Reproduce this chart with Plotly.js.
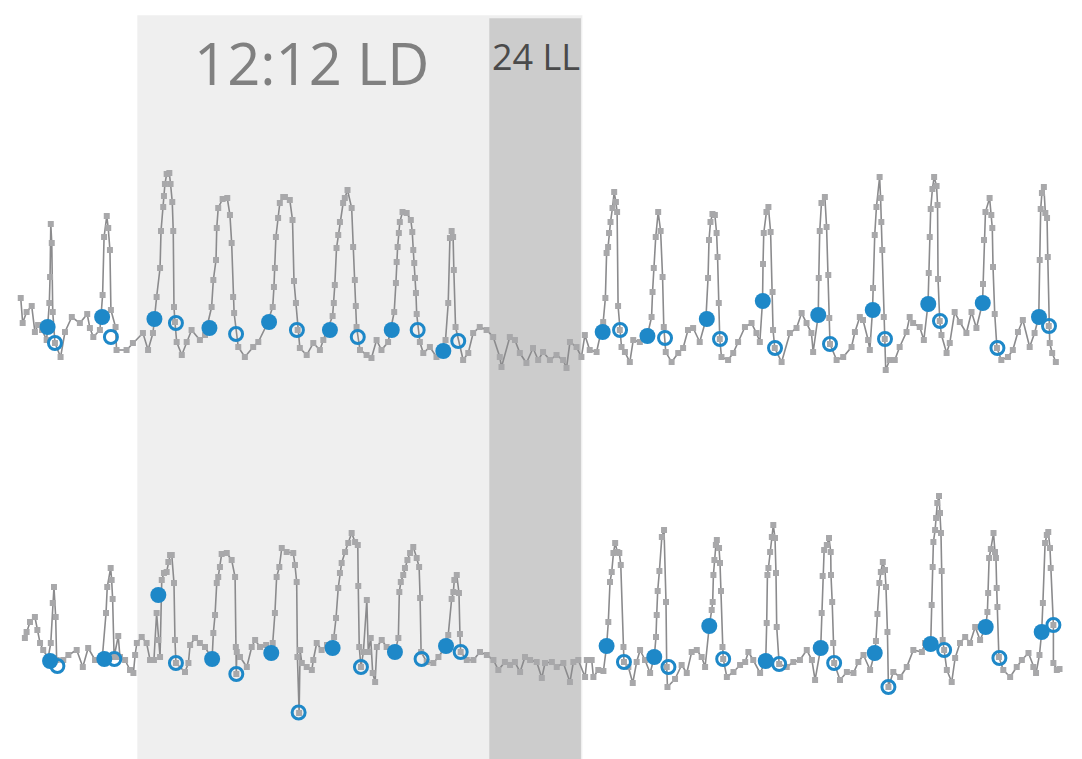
<!DOCTYPE html>
<html>
<head>
<meta charset="utf-8">
<script src="https://cdn.plot.ly/plotly-3.0.1.min.js"></script>
<style>html,body{margin:0;padding:0;background:#fff}#chart{width:1082px;height:759px}</style>
</head>
<body>
<div id="chart"></div>
<script>
// Time in hours from start of recording
const topTime = [0.3,1.1,2.7,4.8,6.1,7.4,9.0,10.9,12.0,12.3,12.6,13.0,13.4,14.3,16.6,18.4,21.2,24.5,27.5,28.6,30.0,32.7,33.8,34.4,35.5,36.1,36.8,37.2,39.1,39.5,43.6,46.2,50.3,52.4,54.4,55.9,57.3,57.7,58.6,58.9,59.3,60.0,61.1,61.6,62.3,62.7,63.0,63.4,64.1,66.2,68.2,70.2,73.6,75.7,78.4,79.1,80.2,80.5,81.1,82.9,84.8,85.9,86.6,87.2,87.6,89.3,92.0,95.4,97.5,100.9,103.4,103.9,104.3,104.7,105.6,106.3,107.7,108.4,110.4,111.5,112.1,112.9,113.6,114.5,117.3,120.0,122.7,124.1,127.9,128.4,128.8,129.5,130.2,130.9,132.2,132.9,134.0,135.7,136.3,137.0,137.4,137.7,139.1,141.8,143.8,145.9,147.9,150.6,153.1,153.8,154.1,154.5,155.0,155.4,156.5,158.2,159.9,160.5,160.9,161.3,161.6,162.0,162.3,163.6,165.0,167.7,170.4,174.1,175.2,175.9,176.6,177.2,177.5,178.2,181.3,183.4,185.4,188.1,190.9,193.6,196.3,197.0,200.4,202.5,204.5,207.2,209.9,212.0,214.0,216.8,219.5,222.2,223.6,225.0,227.7,229.7,231.1,233.1,235.9,238.6,239.5,240.0,240.6,241.0,241.6,242.4,243.1,243.8,244.3,244.7,245.4,246.1,247.5,249.5,250.9,253.6,256.6,258.4,258.8,259.3,260.1,261.1,262.1,262.9,263.4,264.2,266.6,269.3,271.3,273.3,275.4,278.1,280.6,281.5,281.9,282.5,283.3,284.3,285.0,285.4,285.9,286.3,287.0,289.7,291.8,293.8,296.6,299.3,301.3,302.7,303.8,304.0,304.3,305.4,306.2,307.1,307.9,308.1,308.8,311.6,315.0,317.7,319.8,321.8,323.8,324.5,326.6,326.8,327.2,327.9,329.3,330.0,330.7,331.1,331.4,334.1,336.8,340.2,341.6,343.6,344.9,347.0,347.7,348.8,349.0,349.7,350.4,351.7,352.1,352.4,352.8,353.4,353.8,354.2,355.8,357.9,359.9,362.7,364.0,365.4,368.1,369.8,371.5,371.8,372.2,372.6,373.3,374.0,375.0,375.4,375.6,376.3,377.0,379.1,380.4,382.4,384.5,387.2,389.3,391.3,393.8,394.0,394.4,395.0,396.7,397.4,397.8,398.1,398.8,399.7,401.5,404.2,406.2,408.3,410.3,413.1,415.1,416.8,417.2,417.6,418.1,418.9,419.5,420.2,420.5,420.9,421.3,422.3,423.8];
const topActivity = [82,57,68,74,48,55,50,40,77,103,156,137,68,37,23,48,63,57,66,52,43,50,85,143,164,152,130,70,53,30,30,37,47,30,47,83,112,149,173,184,196,206,207,196,178,149,73,58,38,25,38,50,40,45,73,100,120,152,172,181,182,165,137,83,67,33,23,33,38,55,73,93,112,143,162,177,183,183,180,160,99,77,50,32,25,37,30,40,64,77,95,132,145,158,177,182,190,172,133,100,74,53,30,25,22,40,30,38,68,97,118,133,147,158,168,167,160,148,130,117,102,87,66,38,27,33,23,40,77,142,149,143,110,53,20,27,47,53,50,43,23,13,43,40,27,17,32,20,28,20,25,20,12,38,33,23,45,30,28,58,82,127,133,147,158,172,188,178,168,74,50,33,28,18,40,38,44,63,88,112,143,168,149,103,53,28,18,27,32,50,52,38,60,102,140,158,166,165,147,123,77,41,23,20,27,38,53,57,47,38,79,116,147,168,173,148,88,50,32,18,47,52,67,57,47,28,65,102,149,177,183,153,105,62,36,20,23,33,48,63,60,40,30,70,92,145,173,203,182,158,130,63,41,10,20,20,33,48,63,57,53,40,76,107,143,171,191,203,194,175,101,59,45,27,37,68,58,47,68,52,77,96,140,168,182,165,152,113,66,32,20,23,30,48,60,33,47,63,120,171,187,193,167,162,123,54,37,27,18];

const bottomTime = [2.0,2.7,4.1,6.1,7.1,8.2,9.5,11.5,12.6,13.4,13.9,14.6,15.0,17.7,19.8,23.2,25.7,27.9,30.7,33.6,35.2,35.7,37.1,37.5,37.9,38.5,40.2,40.9,43.0,45.0,46.4,47.1,47.8,49.8,51.8,53.2,54.8,55.9,56.6,57.3,58.0,58.9,60.0,60.7,61.4,62.1,63.0,63.4,63.8,67.5,68.9,69.6,71.6,73.6,75.7,78.6,79.1,79.8,80.5,81.1,81.8,82.5,84.6,86.6,88.0,88.3,88.5,88.7,90.0,92.8,94.8,96.2,98.2,100.7,102.8,103.4,104.3,105.0,106.1,107.1,109.1,111.8,112.5,113.2,113.5,114.2,114.6,115.3,117.3,119.4,120.0,121.4,123.4,125.6,127.9,128.5,129.3,130.2,130.9,131.6,133.0,134.3,135.7,137.1,138.2,138.4,138.8,139.5,140.5,141.9,142.5,143.5,144.3,145.3,146.0,148.0,150.0,153.4,154.8,155.2,155.8,156.8,157.5,158.5,159.6,160.9,162.3,163.3,163.7,164.1,166.4,169.1,171.2,174.3,175.2,176.6,177.3,177.7,178.7,179.6,180.0,180.3,182.8,185.5,188.2,191.0,193.7,195.7,198.4,200.5,202.5,204.6,206.6,208.7,211.4,213.5,214.8,217.6,219.6,222.3,225.0,226.4,228.4,231.2,231.9,233.9,234.6,236.6,238.7,240.0,240.7,241.4,242.1,242.8,243.5,244.4,245.2,245.8,246.9,247.1,248.9,250.7,252.3,253.7,255.7,257.8,259.5,260.2,260.5,260.9,261.6,262.6,263.5,264.3,264.6,264.9,268.0,270.7,272.8,274.8,276.9,278.9,280.3,282.0,283.0,283.4,283.7,284.1,284.7,285.1,286.0,286.4,286.8,287.4,287.7,289.2,291.9,294.6,296.7,298.0,300.0,302.8,305.1,305.5,305.8,306.2,306.9,307.6,308.2,308.9,309.3,309.6,310.6,313.7,316.4,319.1,321.9,324.0,325.3,327.6,328.0,328.4,329.0,330.1,331.0,331.7,331.8,332.3,332.7,333.1,335.5,338.3,341.0,343.0,345.1,347.8,349.7,350.2,350.8,351.6,352.2,353.0,353.9,354.3,354.9,355.3,357.3,360.1,362.8,365.5,369.0,370.3,372.6,373.0,373.4,373.7,374.4,374.8,375.3,376.0,376.4,376.8,377.1,377.5,378.1,379.2,381.2,382.6,384.6,386.7,388.7,390.8,392.8,395.1,395.8,396.1,396.5,397.2,398.3,398.9,399.3,399.6,399.9,400.5,402.3,405.1,407.8,409.9,412.6,414.6,415.7,417.1,418.0,418.5,419.4,420.1,420.7,421.4,421.7,422.8,422.8,424.2,425.3];
const bottomActivity = [121,127,137,142,129,116,109,101,116,156,172,142,99,99,104,109,92,111,99,99,146,172,191,179,160,102,123,102,99,89,86,104,116,122,116,99,99,146,119,102,179,186,187,197,204,204,176,119,96,87,96,114,121,116,112,100,126,144,176,182,192,205,206,199,182,112,85,107,102,92,112,119,112,114,106,116,146,182,192,211,207,206,194,177,102,46,109,96,92,89,99,116,109,114,111,122,141,171,186,196,207,216,226,217,214,173,112,92,107,159,107,121,86,77,112,119,112,107,121,167,177,184,191,199,206,212,201,192,161,107,97,96,102,113,124,160,167,179,184,166,125,107,99,99,107,104,99,89,97,94,97,87,102,99,97,81,96,97,92,96,77,97,99,82,99,99,82,89,88,113,137,177,187,206,216,207,206,194,112,97,92,76,97,109,99,86,102,122,144,168,188,222,229,157,92,72,80,94,86,107,109,102,92,133,149,157,184,199,214,219,211,196,168,112,100,82,87,94,97,107,99,86,98,136,184,191,207,222,234,221,186,132,95,92,97,99,109,99,79,111,146,183,209,214,221,207,184,157,116,96,79,87,86,97,104,89,106,118,145,176,187,197,189,172,127,72,87,82,92,109,107,116,115,154,192,217,229,241,256,263,246,226,188,119,109,89,77,101,116,122,116,132,119,132,147,166,201,210,226,207,201,171,152,102,89,82,92,99,106,92,86,104,127,156,216,224,227,211,191,134,96,89,90];

// Activity onsets (filled) and offsets (open), per day
const topOnsetTime = [11.3,33.6,55.0,77.5,101.9,126.8,152.1,173.2,238.4,256.7,281.0,303.9,326.6,348.9,371.6,393.9,416.9];
const topOnsetActivity = [53,63,61,52,58,50,50,29,48,44,61,79,65,70,76,77,63];
const topOffsetTime = [14.3,37.2,63.8,88.4,113.3,138.2,162.7,179.3,245.5,263.9,286.4,308.9,331.4,353.9,376.4,399.9,421.0];
const topOffsetActivity = [37,43,57,46,50,43,50,39,50,42,41,32,36,41,59,32,54];

const bottomOnsetTime = [12.3,34.5,56.6,78.6,102.8,127.9,153.4,174.3,240.0,259.5,282.0,305.1,327.6,349.7,372.6,395.1,418.0];
const bottomOnsetActivity = [98,100,164,100,106,111,107,113,113,102,133,98,111,106,115,132,127];
const bottomOffsetTime = [15.3,38.6,63.8,88.5,114.0,139.5,164.3,180.3,247.1,265.3,287.7,310.6,333.1,355.3,378.1,400.7,422.8];
const bottomOffsetActivity = [93,100,96,85,46.5,92,100,107,97,92,100,95,96,72,109,101,134];

// Light regimes (hours)
const ldStart = 48, ldEnd = 192, llEnd = 229.5;
const regimeLabels = ["12:12 LD", "24 LL"];

const grey = '#8b8b8d', markGrey = '#a8a8aa', blue = '#1e88c8';

function series(x, y, ya) {
  return {x: x, y: y, yaxis: ya, type: 'scatter', mode: 'lines+markers',
    line: {color: grey, width: 1.6},
    marker: {symbol: 'square', size: 6, color: markGrey},
    hoverinfo: 'skip', showlegend: false};
}
function onsets(x, y, ya) {
  return {x: x, y: y, yaxis: ya, type: 'scatter', mode: 'markers',
    marker: {symbol: 'circle', size: 16, color: blue},
    hoverinfo: 'skip', showlegend: false};
}
function offsets(x, y, ya) {
  return {x: x, y: y, yaxis: ya, type: 'scatter', mode: 'markers',
    marker: {symbol: 'circle-open', size: 13, color: blue, line: {width: 3, color: blue}},
    hoverinfo: 'skip', showlegend: false};
}

const data = [
  series(topTime, topActivity, 'y'),
  series(bottomTime, bottomActivity, 'y2'),
  onsets(topOnsetTime, topOnsetActivity, 'y'),
  offsets(topOffsetTime, topOffsetActivity, 'y'),
  onsets(bottomOnsetTime, bottomOnsetActivity, 'y2'),
  offsets(bottomOffsetTime, bottomOffsetActivity, 'y2')
];

const hidden = {showgrid: false, zeroline: false, showticklabels: false, showline: false, ticks: ''};

const layout = {
  width: 1082, height: 759,
  margin: {l: 0, r: 0, t: 0, b: 0},
  paper_bgcolor: '#ffffff', plot_bgcolor: 'rgba(0,0,0,0)',
  showlegend: false,
  xaxis: Object.assign({range: [-8.18, 434.5]}, hidden),
  yaxis: Object.assign({domain: [0.4993, 1], range: [0, 380]}, hidden),
  yaxis2: Object.assign({domain: [0, 0.4993], range: [0, 379]}, hidden),
  shapes: [
    {type: 'rect', xref: 'x', yref: 'paper', x0: ldStart, x1: llEnd + 0.6, y0: 0, y1: 0.980,
     fillcolor: '#efefef', line: {width: 0}, layer: 'below'},
    {type: 'rect', xref: 'x', yref: 'paper', x0: ldEnd, x1: llEnd, y0: 0, y1: 0.976,
     fillcolor: '#cccccc', line: {width: 0}, layer: 'below'}
  ],
  annotations: [
    {text: regimeLabels[0], xref: 'paper', yref: 'paper', x: 0.288, y: 0.918,
     xanchor: 'center', yanchor: 'middle', showarrow: false,
     font: {family: 'Open Sans, sans-serif', size: 58, color: '#808080'}},
    {text: regimeLabels[1], xref: 'paper', yref: 'paper', x: 0.495, y: 0.925,
     xanchor: 'center', yanchor: 'middle', showarrow: false,
     font: {family: 'Open Sans, sans-serif', size: 36, color: '#4a4a4a'}}
  ]
};

Plotly.newPlot('chart', data, layout, {staticPlot: true, displayModeBar: false});
</script>
</body>
</html>
